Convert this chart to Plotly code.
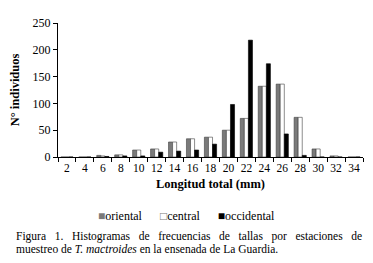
import plotly.graph_objects as go

categories = ["2", "4", "6", "8", "10", "12", "14", "16", "18", "20", "22", "24", "26", "28", "30", "32", "34"]
oriental =   [0, 0, 3, 4, 13, 15, 28, 34, 37, 50, 72, 132, 136, 74, 15, 2, 0]
central =    [0, 0, 2, 4, 13, 15, 28, 34, 37, 50, 72, 132, 136, 74, 15, 2, 0]
occidental = [0, 0, 1, 2, 2, 9, 11, 13, 24, 98, 218, 174, 43, 3, 0, 0, 0]
series_names = ["oriental", "central", "occidental"]
series_colors = ["#7a7a7a", "#ffffff", "#000000"]

serif = "Liberation Serif, Times New Roman, serif"

fig = go.Figure()
for name, vals, col in zip(series_names, [oriental, central, occidental], series_colors):
    fig.add_trace(go.Bar(name=name, x=categories, y=vals,
                         marker=dict(color=col, line=dict(color="#404040" if col != "#000000" else "#000000", width=0.6))))

# page is offset by the 8px body margin, so the figure is 8px smaller
fig.update_layout(
    width=365, height=255,
    margin=dict(l=50, r=10, t=15, b=106, autoexpand=False),
    plot_bgcolor="white", paper_bgcolor="white",
    barmode="group", bargap=0.32, bargroupgap=0,
    font=dict(family=serif, size=12, color="#000000"),
    showlegend=False,
)
fig.update_xaxes(type="category", showline=True, linecolor="#000000", linewidth=1,
                 ticks="outside", tickson="boundaries", ticklen=4, tickcolor="#000000",
                 tickangle=0, automargin=False,
                 tickfont=dict(family=serif, size=11.5),
                 title=dict(text="<b>Longitud total (mm)</b>", font=dict(family=serif, size=12.5), standoff=6))
fig.update_yaxes(range=[0, 250], tickvals=[0, 50, 100, 150, 200, 250], showline=True,
                 linecolor="#000000", linewidth=1, ticks="outside", ticklen=4, tickcolor="#000000",
                 showgrid=False, zeroline=False, automargin=False, tickfont=dict(family=serif, size=12),
                 title=dict(text="<b>N° individuos</b>", font=dict(family=serif, size=12.5), standoff=10))

# legend row
legend_html = "\u2003\u2002".join(
    f"<span style='color:{'#7a7a7a' if c == '#ffffff' else c}'>{'□' if c == '#ffffff' else '■'}</span>{n}"
    for n, c in zip(series_names, series_colors))
fig.add_annotation(text=legend_html, xref="paper", yref="paper", x=0.42, y=-0.44,
                   xanchor="center", yanchor="middle", showarrow=False,
                   font=dict(family=serif, size=12))

line1 = "Figura 1. Histogramas de frecuencias de tallas por estaciones de".replace(" ", "\u2002 ")
fig.add_annotation(text=line1,
                   xref="paper", yref="paper", x=-0.144, y=-0.597, xanchor="left", yanchor="middle",
                   showarrow=False, font=dict(family=serif, size=11.5), align="left")
fig.add_annotation(text="muestreo de <i>T. mactroides</i> en la ensenada de La Guardia.",
                   xref="paper", yref="paper", x=-0.144, y=-0.687, xanchor="left", yanchor="middle",
                   showarrow=False, font=dict(family=serif, size=11.5), align="left")

fig.write_html("out.html")
